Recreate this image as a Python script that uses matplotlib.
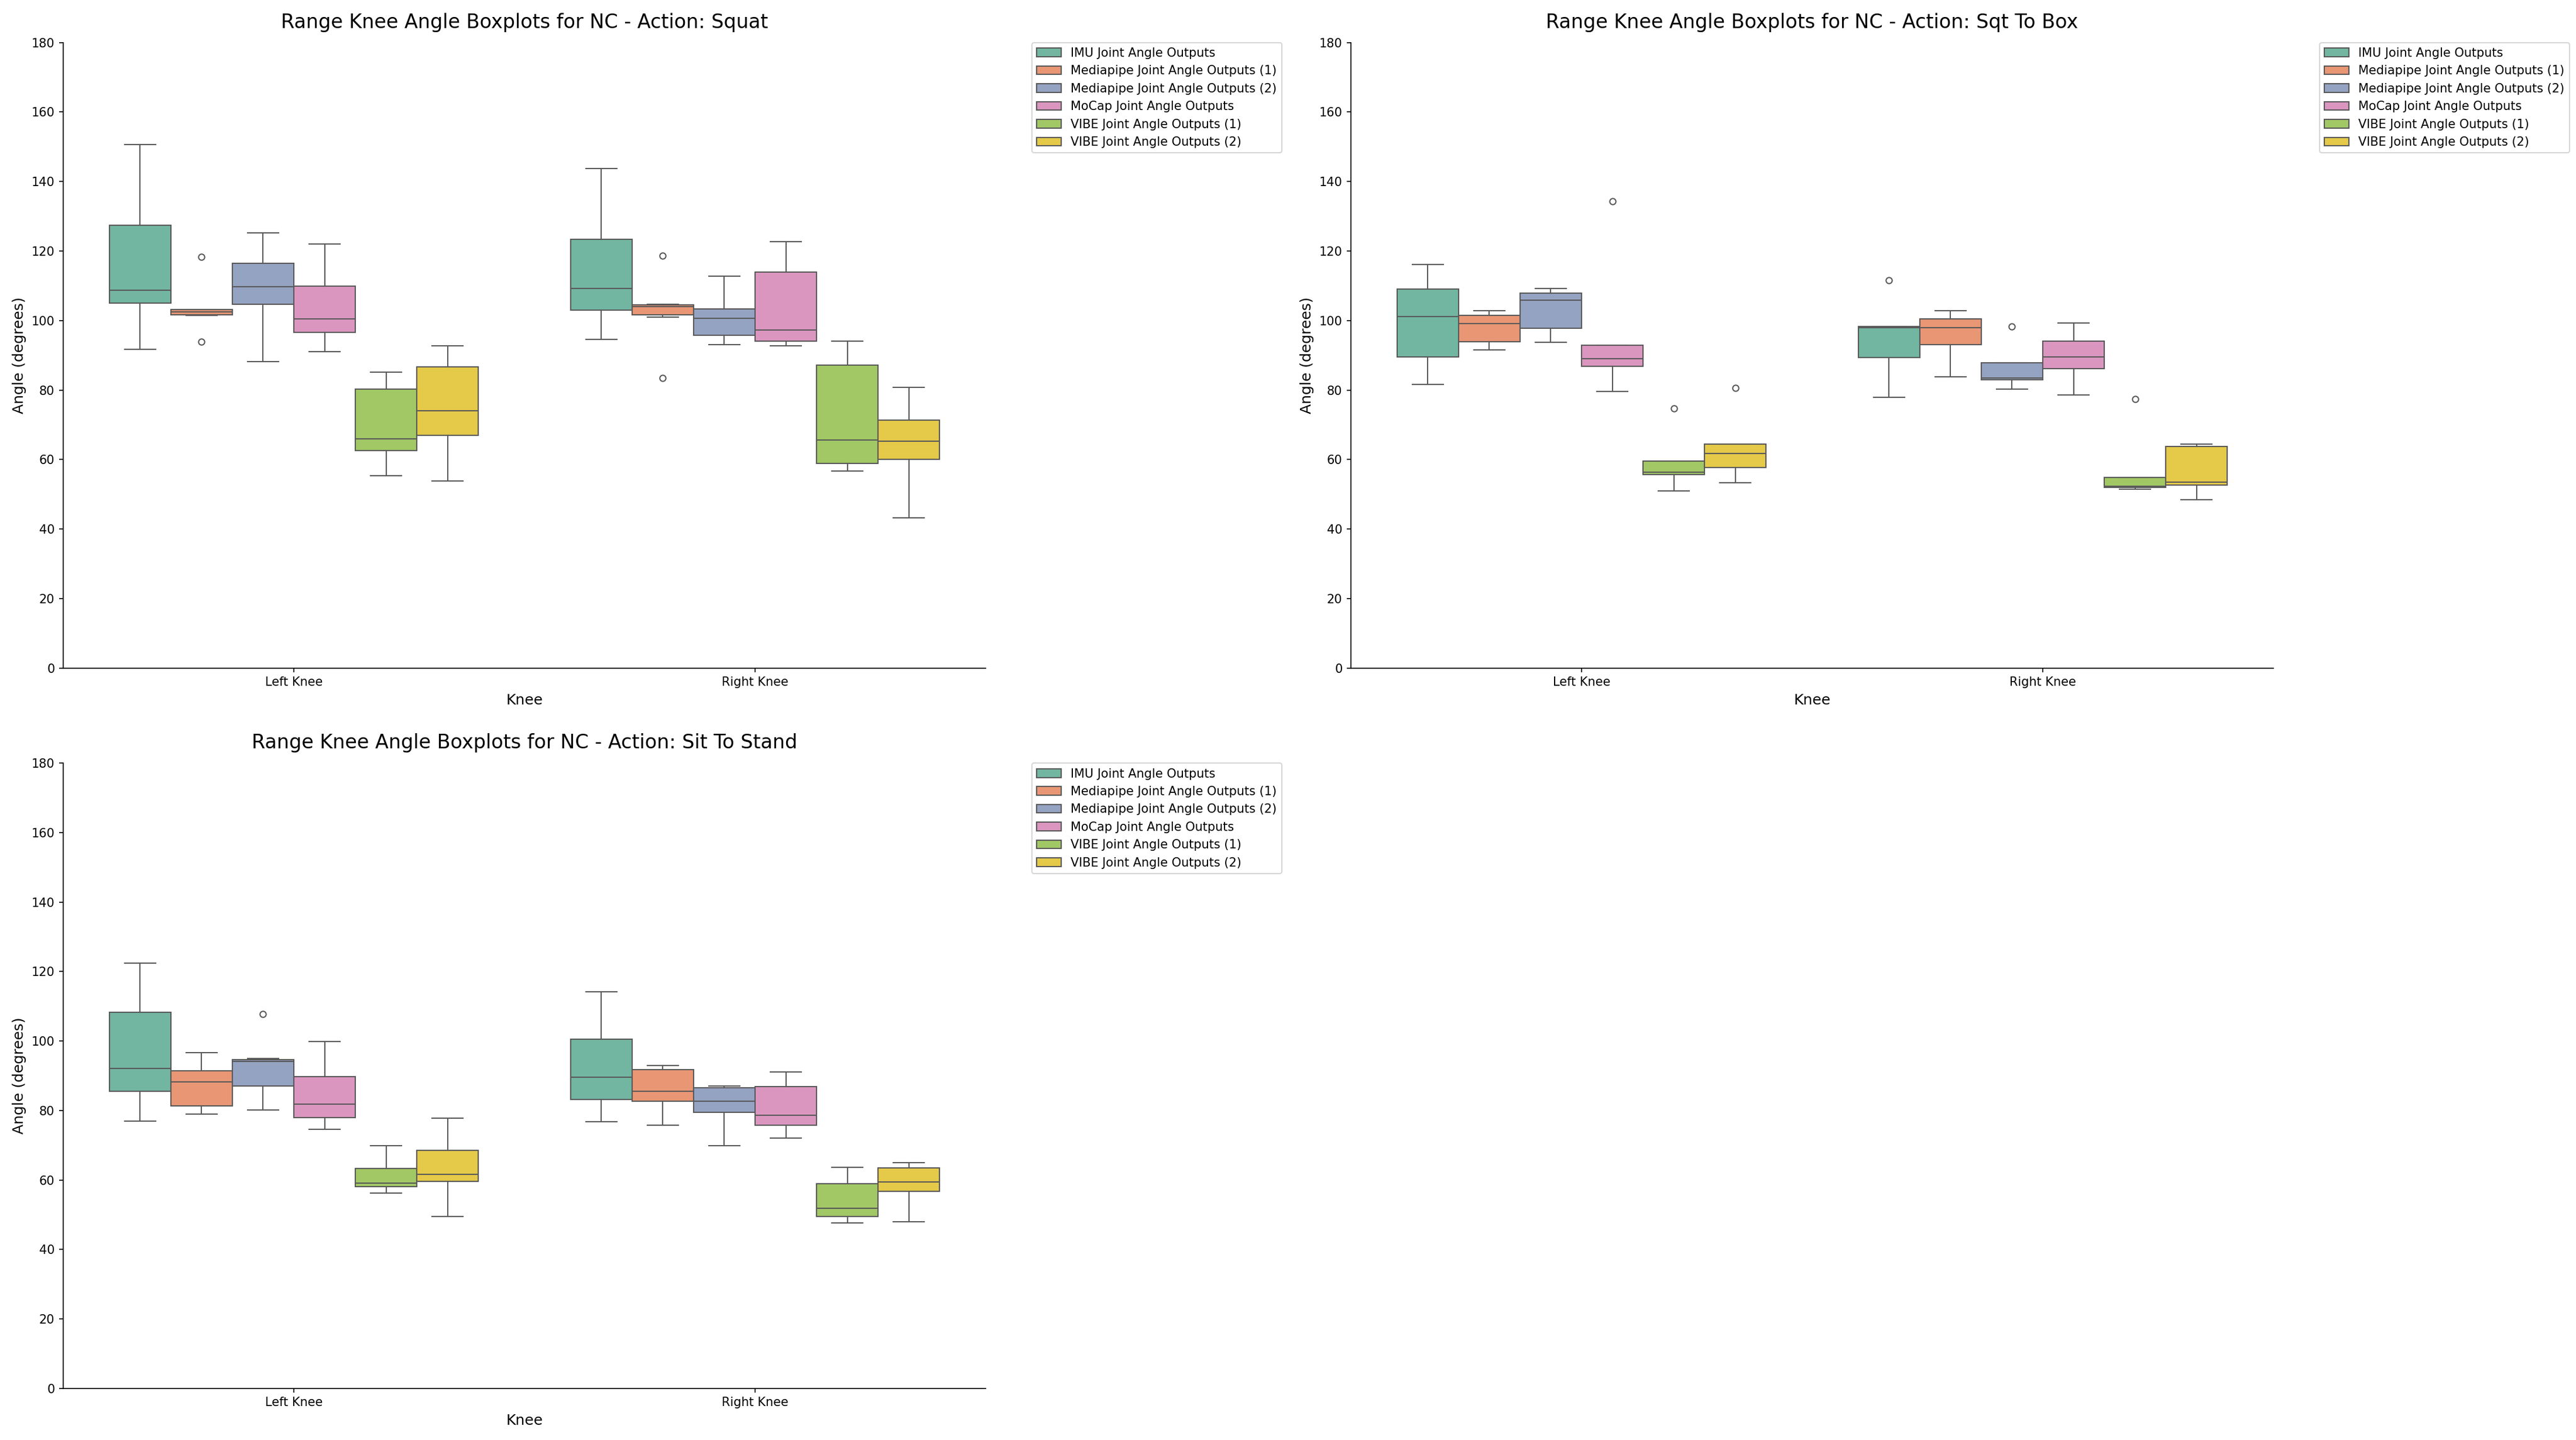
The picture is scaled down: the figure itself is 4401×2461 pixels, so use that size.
import colorsys

import matplotlib
matplotlib.use("Agg")
import matplotlib.pyplot as plt
from matplotlib.patches import Patch
import seaborn as sns

knees = ["Left Knee", "Right Knee"]
sources = [
    "IMU Joint Angle Outputs",
    "Mediapipe Joint Angle Outputs (1)",
    "Mediapipe Joint Angle Outputs (2)",
    "MoCap Joint Angle Outputs",
    "VIBE Joint Angle Outputs (1)",
    "VIBE Joint Angle Outputs (2)",
]
actions = ["Squat", "Sqt To Box", "Sit To Stand"]

# box stats, rows = knee, cols = source
squat_low = [[91.8, 101.4, 88.2, 91.1, 55.4, 53.8], [94.6, 100.9, 93.0, 92.8, 56.7, 43.3]]
squat_q1 = [[105.0, 101.7, 104.7, 96.6, 62.6, 66.9], [103.0, 101.7, 95.8, 94.1, 58.8, 60.0]]
squat_med = [[108.8, 102.5, 109.8, 100.5, 65.9, 74.1], [109.2, 104.0, 100.6, 97.2, 65.7, 65.2]]
squat_q3 = [[127.4, 103.1, 116.4, 109.9, 80.2, 86.7], [123.3, 104.5, 103.4, 114.0, 87.2, 71.4]]
squat_high = [[150.7, 103.2, 125.3, 122.1, 85.1, 92.8], [143.7, 104.6, 112.7, 122.7, 94.1, 80.7]]
squat_fliers = [[[], [118.3, 93.9], [], [], [], []], [[], [118.6, 83.4], [], [], [], []]]

box_low = [[81.6, 91.6, 93.8, 79.6, 51.0, 53.3], [77.9, 83.8, 80.2, 78.5, 51.4, 48.5]]
box_q1 = [[89.5, 93.9, 97.7, 86.9, 55.6, 57.7], [89.3, 93.0, 83.0, 86.2, 52.0, 52.6]]
box_med = [[101.2, 99.2, 105.9, 89.0, 56.4, 61.7], [98.0, 97.9, 83.4, 89.6, 52.3, 53.5]]
box_q3 = [[109.0, 101.4, 107.8, 92.9, 59.6, 64.5], [98.3, 100.4, 87.8, 94.1, 54.8, 63.8]]
box_high = [[116.1, 102.9, 109.2, 92.9, 59.6, 64.5], [98.3, 102.9, 87.8, 99.3, 54.8, 64.5]]
box_fliers = [[[], [], [], [134.3], [74.7], [80.6]], [[111.6], [], [98.3], [], [77.4], []]]

sts_low = [[77.0, 78.9, 80.2, 74.6, 56.2, 49.5], [76.7, 75.7, 69.9, 72.1, 47.6, 48.0]]
sts_q1 = [[85.5, 81.4, 87.0, 77.9, 58.0, 59.6], [83.1, 82.7, 79.5, 75.8, 49.4, 56.7]]
sts_med = [[92.1, 88.2, 94.2, 81.9, 59.1, 61.6], [89.5, 85.5, 82.7, 78.6, 51.8, 59.4]]
sts_q3 = [[108.2, 91.5, 94.6, 89.8, 63.3, 68.6], [100.6, 91.7, 86.6, 86.9, 59.0, 63.5]]
sts_high = [[122.4, 96.6, 94.9, 99.9, 69.8, 77.8], [114.2, 92.9, 87.1, 91.1, 63.7, 65.0]]
sts_fliers = [[[], [], [107.7], [], [], []], [[], [], [], [], [], []]]

all_stats = [
    (squat_low, squat_q1, squat_med, squat_q3, squat_high, squat_fliers),
    (box_low, box_q1, box_med, box_q3, box_high, box_fliers),
    (sts_low, sts_q1, sts_med, sts_q3, sts_high, sts_fliers),
]

colors = [sns.desaturate(c, 0.75) for c in sns.color_palette("Set2", 6)]
lum = min(colorsys.rgb_to_hls(*c)[1] for c in colors) * 0.6
gray = (lum, lum, lum)

W, H, DPI = 4401, 2461, 150
fig, axes = plt.subplots(2, 2, figsize=(W / DPI, H / DPI), dpi=DPI)
axes = axes.flatten()
axes[3].axis("off")

positions = [
    [108 / W, 1 - 1141.7 / H, 1576 / W, 1069 / H],
    [2308 / W, 1 - 1141.7 / H, 1576 / W, 1069 / H],
    [108 / W, 1 - 2372.7 / H, 1576 / W, 1068.4 / H],
]

n = len(sources)
bw = 0.8 / n

for ax, action, stats, pos in zip(axes[:3], actions, all_stats, positions):
    ax.set_position(pos)
    low, q1, med, q3, high, fl = stats
    for s in range(n):
        bstats = []
        xs = []
        for k in range(len(knees)):
            bstats.append({
                "whislo": low[k][s], "q1": q1[k][s], "med": med[k][s],
                "q3": q3[k][s], "whishi": high[k][s], "fliers": fl[k][s],
            })
            xs.append(k - 0.4 + bw * (s + 0.5))
        ax.bxp(
            bstats, positions=xs, widths=bw, patch_artist=True,
            manage_ticks=False,
            boxprops=dict(facecolor=colors[s], edgecolor=gray, linewidth=1.0),
            medianprops=dict(color=gray, linewidth=1.0),
            whiskerprops=dict(color=gray, linewidth=1.0),
            capprops=dict(color=gray, linewidth=1.0),
            flierprops=dict(marker="o", markersize=5, markerfacecolor="none",
                            markeredgecolor=gray, markeredgewidth=1.0),
        )
    ax.set_xlim(-0.5, 1.5)
    ax.set_ylim(0, 180)
    ax.set_xticks(range(len(knees)))
    ax.set_xticklabels(knees)
    ax.set_title(f"Range Knee Angle Boxplots for NC - Action: {action}", fontsize=16, pad=12)
    ax.set_xlabel("Knee", fontsize=12)
    ax.set_ylabel("Angle (degrees)", fontsize=12)
    ax.spines["top"].set_visible(False)
    ax.spines["right"].set_visible(False)
    handles = [Patch(facecolor=colors[s], edgecolor=gray, linewidth=1.0, label=sources[s])
               for s in range(n)]
    ax.legend(handles=handles, bbox_to_anchor=(1.05, 1), loc="upper left", borderaxespad=0)

fig.savefig("out.png", dpi=DPI)
